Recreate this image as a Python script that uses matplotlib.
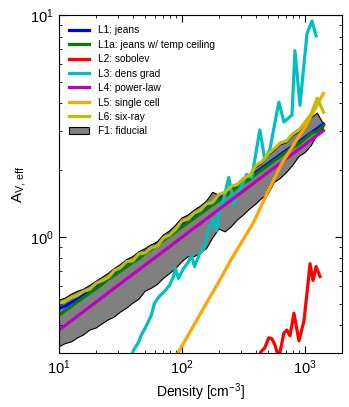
import numpy as np
import matplotlib
matplotlib.use("Agg")
import matplotlib.pyplot as plt

# fonts
plt.rcParams['font.family'] = ['Liberation Sans', 'DejaVu Sans']
plt.rcParams['mathtext.fontset'] = 'custom'
plt.rcParams['mathtext.rm'] = 'Liberation Sans'
plt.rcParams['mathtext.it'] = 'Liberation Sans:italic'
plt.rcParams['mathtext.bf'] = 'Liberation Sans:bold'

# shared density grid [cm^-3]
density = [10.0, 11.2, 12.6, 14.1, 15.8, 17.8, 20.0, 22.4, 25.1, 28.2,
           31.6, 35.5, 39.8, 44.7, 50.1, 56.2, 63.1, 70.8, 79.4, 89.1,
           100, 112, 126, 141, 158, 178, 200, 224, 251, 282,
           316, 355, 398, 447, 501, 562, 631, 708, 794, 891,
           1000, 1122, 1259, 1413]

# F1: fiducial range (upper / lower edge)
fid_upper = [0.518, 0.529, 0.551, 0.568, 0.580, 0.604, 0.630, 0.656, 0.684, 0.720,
             0.750, 0.790, 0.814, 0.857, 0.884, 0.921, 0.950, 1.021, 1.064, 1.131,
             1.216, 1.254, 1.320, 1.375, 1.448, 1.588, 1.540, 1.556, 1.654, 1.689,
             1.797, 1.853, 2.054, 2.140, 2.323, 2.446, 2.601, 2.656, 2.853, 2.973,
             3.196, 3.433, 3.614, 3.229]
fid_lower = [0.319, 0.330, 0.336, 0.350, 0.361, 0.380, 0.388, 0.405, 0.422, 0.435,
             0.458, 0.477, 0.502, 0.523, 0.568, 0.586, 0.610, 0.650, 0.684, 0.720,
             0.773, 0.814, 0.814, 0.848, 0.884, 0.990, 1.086, 1.053, 1.108, 1.191,
             1.254, 1.334, 1.404, 1.493, 1.556, 1.760, 1.834, 1.951, 2.097, 2.299,
             2.396, 2.575, 2.884, 3.098]

# L1: jeans
av_jeans = [0.477, 0.487, 0.507, 0.523, 0.545, 0.574, 0.592, 0.623, 0.650, 0.677,
            0.720, 0.742, 0.781, 0.814, 0.857, 0.884, 0.931, 0.970, 1.031, 1.064,
            1.143, 1.179, 1.241, 1.293, 1.361, 1.418, 1.478, 1.556, 1.621, 1.698,
            1.778, 1.863, 1.951, 2.043, 2.140, 2.241, 2.348, 2.459, 2.562, 2.683,
            2.810, 2.943, 3.082, 3.229]

# L1a: jeans w/ temp ceiling
av_jeans_tc = [0.444, 0.465, 0.486, 0.510, 0.533, 0.558, 0.584, 0.612, 0.645, 0.670,
               0.702, 0.735, 0.769, 0.800, 0.842, 0.882, 0.923, 0.967, 1.012, 1.059,
               1.110, 1.161, 1.216, 1.272, 1.332, 1.400, 1.460, 1.527, 1.600, 1.674,
               1.753, 1.820, 1.920, 2.010, 2.105, 2.205, 2.307, 2.415, 2.527, 2.630,
               2.770, 2.930, 3.000, 3.179]

# L6: six-ray
av_sixray = [0.502, 0.513, 0.534, 0.545, 0.568, 0.580, 0.617, 0.636, 0.656, 0.705,
             0.727, 0.773, 0.781, 0.839, 0.848, 0.893, 0.912, 0.990, 1.021, 1.086,
             1.179, 1.203, 1.280, 1.320, 1.404, 1.433, 1.556, 1.588, 1.689, 1.724,
             1.834, 1.891, 2.097, 2.184, 2.371, 2.497, 2.656, 2.710, 2.913, 3.034,
             3.295, 3.578, 4.217, 3.652]

# L4: power-law
dens_pl = [10, 31.6, 100, 316, 1000, 1413]
av_pl = [0.380, 0.616, 0.996, 1.612, 2.609, 3.013]

# L5: single cell
dens_sc = [80, 95, 141, 200, 254, 381, 500, 649, 800, 1005, 1200, 1413]
av_sc = [0.257, 0.307, 0.45, 0.63, 0.80, 1.16, 1.60, 2.15, 2.58, 3.14, 3.76, 4.44]

# L3: dens grad
dens_dg = [37.3, 40.2, 44.1, 46.7, 51.3, 56.4, 59.7, 65.5, 72.0, 79.1,
           85.3, 88.5, 93.6, 102.8, 113, 119.6, 126.5, 139, 150, 164.6,
           180.8, 191.3, 202.5, 218.3, 239.9, 263.3, 294.6, 336.2, 369, 429.3,
           471.3, 517.5, 613.3, 674.3, 783.6, 828.6, 910.5, 1038, 1140, 1230]
av_dg = [0.271, 0.307, 0.333, 0.361, 0.397, 0.444, 0.502, 0.540, 0.568, 0.604,
         0.663, 0.720, 0.650, 0.720, 0.773, 0.823, 0.735, 0.840, 0.884, 1.086,
         1.203, 1.064, 1.334, 1.478, 1.853, 1.404, 1.637, 1.911, 1.853, 3.035,
         2.229, 2.471, 4.05, 3.296, 3.54, 6.91, 3.92, 8.23, 9.40, 8.06]

# L2: sobolev
dens_sob = [405, 437, 471, 508, 538, 569, 613, 674, 713, 755,
            813, 893, 981, 1038, 1099, 1162, 1230, 1325]
av_sob = [0.245, 0.303, 0.316, 0.351, 0.347, 0.326, 0.285, 0.369, 0.380, 0.358,
          0.453, 0.340, 0.418, 0.557, 0.757, 0.636, 0.735, 0.663]

fig = plt.figure(figsize=(3.49, 4.07), dpi=100)
ax = fig.add_axes([0.169, 0.133, 0.811, 0.830])

# fiducial band
band = ax.fill(np.concatenate([density, density[::-1]]),
               np.concatenate([fid_upper, fid_lower[::-1]]),
               facecolor='gray', edgecolor='black', lw=0.8, zorder=1,
               label='F1: fiducial')[0]

lw = 2.3
l1, = ax.plot(density, av_jeans, color='b', lw=lw, label='L1: jeans')
l1a, = ax.plot(density, av_jeans_tc, color='g', lw=lw, label='L1a: jeans w/ temp ceiling')
l2, = ax.plot(dens_sob, av_sob, color='r', lw=lw, label='L2: sobolev')
l3, = ax.plot(dens_dg, av_dg, color='c', lw=lw, label='L3: dens grad')
l4, = ax.plot(dens_pl, av_pl, color='m', lw=lw, label='L4: power-law')
l5, = ax.plot(dens_sc, av_sc, color='orange', lw=lw, label='L5: single cell')
l6, = ax.plot(density, av_sixray, color='y', lw=lw, label='L6: six-ray')

ax.set_xscale('log')
ax.set_yscale('log')
ax.set_xlim(10, 2000)
ax.set_ylim(0.3, 10)

ax.tick_params(which='both', direction='in', top=True, right=True, labelsize=10.5)
ax.tick_params(which='major', length=5, width=0.8, pad=4)
ax.tick_params(which='minor', length=2.5, width=0.6)
ax.yaxis.set_minor_formatter(plt.NullFormatter())

ax.set_xlabel(r'Density [cm$^{-3}$]', fontsize=10, labelpad=3)
ax.set_ylabel(r'$\mathrm{A_{V,\,eff}}$', fontsize=11, labelpad=1)

ax.legend(handles=[l1, l1a, l2, l3, l4, l5, l6, band], loc='upper left',
          frameon=False, fontsize=7.3, handlelength=2.0, labelspacing=0.44,
          handletextpad=0.8, borderaxespad=0.6)

fig.savefig('out.png', dpi=100)
